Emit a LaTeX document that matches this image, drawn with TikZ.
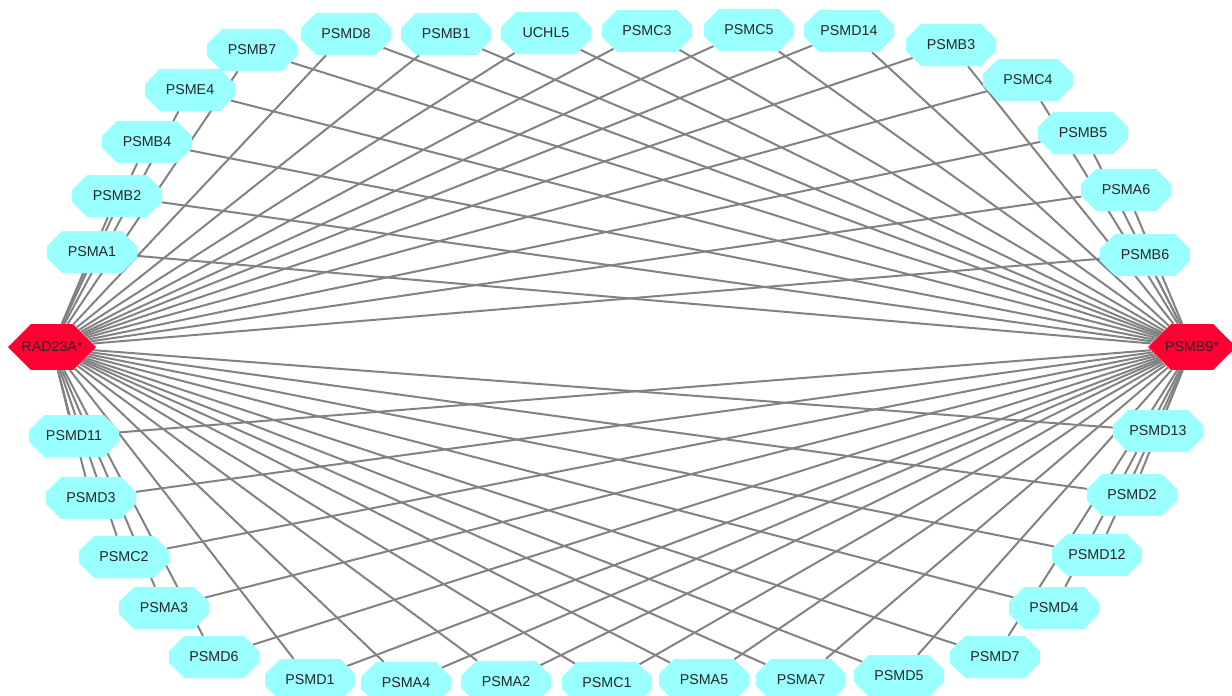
\documentclass[tikz,border=0pt]{standalone}
\usepackage{fontspec}
\setmainfont{Liberation Sans}
\usetikzlibrary{shapes.misc,backgrounds}
\definecolor{protcyan}{RGB}{153,255,255}
\definecolor{hubred}{RGB}{255,0,51}
\definecolor{edgegray}{RGB}{130,130,130}
\begin{document}
\begin{tikzpicture}[x=0.75pt, y=-0.75pt,
    prot/.style={chamfered rectangle, chamfered rectangle xsep=12.75pt,
      chamfered rectangle ysep=7.5pt, minimum width=67.5pt, minimum height=31.5pt,
      inner sep=0pt, fill=protcyan, text=black!85, font=\fontsize{10.7}{12}\selectfont},
    hub/.style={chamfered rectangle, chamfered rectangle xsep=14pt,
      chamfered rectangle ysep=13.4pt, minimum width=66pt, minimum height=27pt,
      inner sep=0pt, fill=hubred, text=black!85, font=\fontsize{10.7}{12}\selectfont},
    link/.style={draw=edgegray, line width=1.5pt}]
  \useasboundingbox (0,0) rectangle (1232,696);
  % the two hubs
  \node[hub] (rad23a) at (52,347) {RAD23A*};
  \node[hub] (psmb9) at (1192,347) {PSMB9*};
  % upper half, left to right
  \node[prot] (psma1) at (92,252) {PSMA1};
  \node[prot] (psmb2) at (117,196) {PSMB2};
  \node[prot] (psmb4) at (147,142) {PSMB4};
  \node[prot] (psme4) at (190,90) {PSME4};
  \node[prot] (psmb7) at (252,50) {PSMB7};
  \node[prot] (psmd8) at (346,34) {PSMD8};
  \node[prot] (psmb1) at (446,34) {PSMB1};
  \node[prot] (uchl5) at (546,33) {UCHL5};
  \node[prot] (psmc3) at (647,31) {PSMC3};
  \node[prot] (psmc5) at (749,30) {PSMC5};
  \node[prot] (psmd14) at (849,31) {PSMD14};
  \node[prot] (psmb3) at (951,45) {PSMB3};
  \node[prot] (psmc4) at (1028,80) {PSMC4};
  \node[prot] (psmb5) at (1083,133) {PSMB5};
  \node[prot] (psma6) at (1126,190) {PSMA6};
  \node[prot] (psmb6) at (1145,255) {PSMB6};
  % lower half, left to right
  \node[prot] (psmd11) at (74,436) {PSMD11};
  \node[prot] (psmd3) at (91,498) {PSMD3};
  \node[prot] (psmc2) at (124,557) {PSMC2};
  \node[prot] (psma3) at (164,608) {PSMA3};
  \node[prot] (psmd6) at (214,657) {PSMD6};
  \node[prot] (psmd1) at (310,680) {PSMD1};
  \node[prot] (psma4) at (406,683) {PSMA4};
  \node[prot] (psma2) at (506,682) {PSMA2};
  \node[prot] (psmc1) at (607,683) {PSMC1};
  \node[prot] (psma5) at (704,680) {PSMA5};
  \node[prot] (psma7) at (801,680) {PSMA7};
  \node[prot] (psmd5) at (899,676) {PSMD5};
  \node[prot] (psmd7) at (995,657) {PSMD7};
  \node[prot] (psmd4) at (1054,608) {PSMD4};
  \node[prot] (psmd12) at (1097,555) {PSMD12};
  \node[prot] (psmd2) at (1132,495) {PSMD2};
  \node[prot] (psmd13) at (1158,431) {PSMD13};
  % every protein is linked to both hubs
  \begin{scope}[on background layer]
    \foreach \p in {psma1,psmb2,psmb4,psme4,psmb7,psmd8,psmb1,uchl5,psmc3,psmc5,
        psmd14,psmb3,psmc4,psmb5,psma6,psmb6,psmd11,psmd3,psmc2,psma3,psmd6,psmd1,
        psma4,psma2,psmc1,psma5,psma7,psmd5,psmd7,psmd4,psmd12,psmd2,psmd13}
      \draw[link] (rad23a) -- (\p) (psmb9) -- (\p);
  \end{scope}
\end{tikzpicture}
\end{document}
